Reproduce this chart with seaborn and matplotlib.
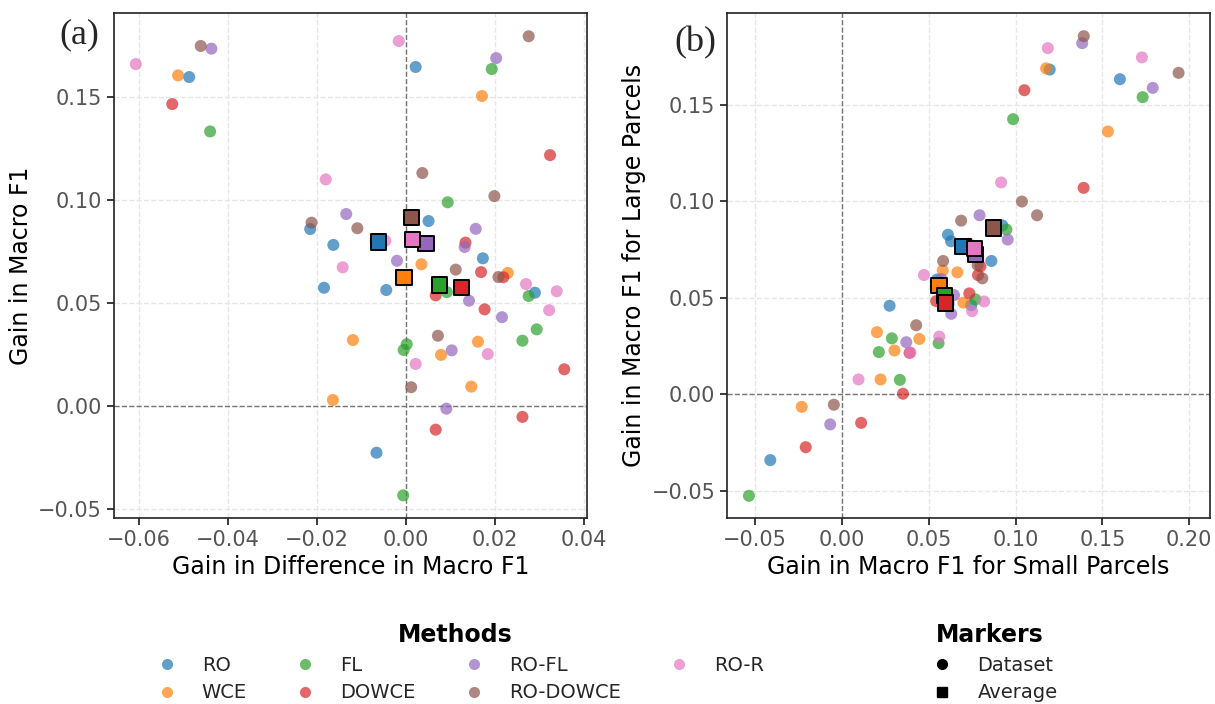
import numpy as np
import pandas as pd
import matplotlib
matplotlib.use("Agg")
import matplotlib.pyplot as plt
from matplotlib.lines import Line2D
import seaborn as sns

methods = ["RO", "WCE", "FL", "DOWCE", "RO-FL", "RO-DOWCE", "RO-R"]
colors = sns.color_palette("tab10", 7)

# (a) gain in difference in macro F1 (x) vs gain in macro F1 (y), one value per dataset
diff_gain = {
    "RO":       [-0.0487, 0.0022, -0.0215, -0.0163, -0.0184, 0.0051, 0.0173, -0.0044, 0.0290, -0.0066],
    "WCE":      [-0.0512, 0.0171, -0.0119, -0.0164, 0.0035, 0.0229, 0.0162, 0.0079, 0.0147, -0.0068],
    "FL":       [-0.0440, 0.0193, 0.0094, 0.0092, 0.0276, 0.0294, 0.0262, 0.0002, -0.0005, -0.0006],
    "DOWCE":    [-0.0525, 0.0324, 0.0134, 0.0169, 0.0219, 0.0067, 0.0177, 0.0356, 0.0262, 0.0067],
    "RO-FL":    [-0.0437, 0.0203, -0.0134, 0.0157, 0.0132, -0.0020, 0.0142, 0.0216, 0.0103, 0.0091],
    "RO-DOWCE": [-0.0461, 0.0276, -0.0212, -0.0109, 0.0037, 0.0199, 0.0112, 0.0208, 0.0072, 0.0012],
    "RO-R":     [-0.0607, -0.0016, -0.0180, -0.0142, -0.0046, 0.0270, 0.0339, 0.0322, 0.0184, 0.0022],
}
macro_gain = {
    "RO":       [0.1597, 0.1646, 0.0859, 0.0782, 0.0574, 0.0898, 0.0717, 0.0563, 0.0550, -0.0227],
    "WCE":      [0.1605, 0.1505, 0.0320, 0.0029, 0.0688, 0.0646, 0.0312, 0.0248, 0.0094, 0.0803],
    "FL":       [0.1333, 0.1636, 0.0989, 0.0553, 0.0534, 0.0372, 0.0317, 0.0300, 0.0272, -0.0434],
    "DOWCE":    [0.1466, 0.1218, 0.0793, 0.0650, 0.0625, 0.0537, 0.0469, 0.0178, -0.0053, -0.0115],
    "RO-FL":    [0.1735, 0.1689, 0.0932, 0.0860, 0.0772, 0.0705, 0.0511, 0.0431, 0.0270, -0.0013],
    "RO-DOWCE": [0.1748, 0.1795, 0.0890, 0.0863, 0.1131, 0.1019, 0.0662, 0.0626, 0.0341, 0.0091],
    "RO-R":     [0.1660, 0.1772, 0.1100, 0.0673, 0.0802, 0.0592, 0.0557, 0.0465, 0.0252, 0.0204],
}

# (b) gain for small parcels (x) vs gain for large parcels (y)
small_gain = {
    "RO":       [-0.0412, 0.0275, 0.0548, 0.0611, 0.0629, 0.0861, 0.0924, 0.0745, 0.1197, 0.1601],
    "WCE":      [-0.0231, 0.0223, 0.0202, 0.0303, 0.0446, 0.0581, 0.0665, 0.0700, 0.1176, 0.1532],
    "FL":       [-0.0535, 0.0334, 0.0288, 0.0213, 0.0557, 0.0769, 0.0948, 0.0986, 0.1732, 0.0598],
    "DOWCE":    [-0.0208, 0.0111, 0.0352, 0.0390, 0.0543, 0.0734, 0.0798, 0.0784, 0.1051, 0.1392],
    "RO-FL":    [-0.0067, 0.0371, 0.0573, 0.0646, 0.0630, 0.0793, 0.0955, 0.1384, 0.1790, 0.0615],
    "RO-DOWCE": [-0.0046, 0.0428, 0.0583, 0.0687, 0.0782, 0.0809, 0.1037, 0.1124, 0.1393, 0.1939],
    "RO-R":     [0.0096, 0.0395, 0.0561, 0.0473, 0.0732, 0.0750, 0.0819, 0.0917, 0.1186, 0.1728],
}
large_gain = {
    "RO":       [-0.0342, 0.0458, 0.0594, 0.0826, 0.0792, 0.0690, 0.0874, 0.0461, 0.1682, 0.1632],
    "WCE":      [-0.0066, 0.0076, 0.0321, 0.0226, 0.0286, 0.0641, 0.0631, 0.0474, 0.1688, 0.1361],
    "FL":       [-0.0527, 0.0074, 0.0289, 0.0218, 0.0264, 0.0491, 0.0853, 0.1425, 0.1539, 0.0504],
    "DOWCE":    [-0.0275, -0.0149, 0.0002, 0.0214, 0.0482, 0.0522, 0.0662, 0.0617, 0.1575, 0.1069],
    "RO-FL":    [-0.0157, 0.0269, 0.0596, 0.0513, 0.0416, 0.0927, 0.0801, 0.1819, 0.1587, 0.0469],
    "RO-DOWCE": [-0.0055, 0.0357, 0.0690, 0.0899, 0.0668, 0.0600, 0.0998, 0.0927, 0.1855, 0.1665],
    "RO-R":     [0.0076, 0.0216, 0.0298, 0.0617, 0.0780, 0.0430, 0.0480, 0.1097, 0.1793, 0.1745],
}


def to_frame(xd, yd):
    rows = []
    for m in methods:
        for xv, yv in zip(xd[m], yd[m]):
            rows.append({"Method": m, "x": xv, "y": yv})
    return pd.DataFrame(rows)


df_a = to_frame(diff_gain, macro_gain)
df_b = to_frame(small_gain, large_gain)

sns.set_theme(style="whitegrid", rc={
    "grid.linestyle": "--", "grid.color": "#e6e6e6", "grid.linewidth": 1.0,
    "axes.edgecolor": "#222222", "axes.linewidth": 1.2,
    "xtick.bottom": True, "ytick.left": True,
    "xtick.major.size": 5, "ytick.major.size": 5,
    "xtick.color": "#222222", "ytick.color": "#222222",
})
plt.rcParams["font.family"] = ["DejaVu Sans"]

fig = plt.figure(figsize=(12.15, 7.04), dpi=100)
ax_a = fig.add_axes([0.0938, 0.2642, 0.3893, 0.7173])
ax_b = fig.add_axes([0.5984, 0.2642, 0.3975, 0.7173])

palette = dict(zip(methods, colors))


def draw(ax, df):
    ax.axhline(0, color="#777777", ls="--", lw=1.0, zorder=1)
    ax.axvline(0, color="#777777", ls="--", lw=1.0, zorder=1)
    sns.scatterplot(data=df, x="x", y="y", hue="Method", hue_order=methods,
                    palette=palette, s=75, alpha=0.7, linewidth=0,
                    legend=False, ax=ax, zorder=3)
    avg = df.groupby("Method", sort=False)[["x", "y"]].mean().reset_index()
    sns.scatterplot(data=avg, x="x", y="y", hue="Method", hue_order=methods,
                    palette=palette, marker="s", s=120, alpha=1,
                    edgecolor="black", linewidth=1.4, legend=False,
                    ax=ax, zorder=4)
    ax.tick_params(axis="both", labelsize=15, labelcolor="#555555")
    for sp in ax.spines.values():
        sp.set_visible(True)


draw(ax_a, df_a)
draw(ax_b, df_b)

ax_a.set_xlim(-0.0656, 0.0407)
ax_a.set_ylim(-0.0544, 0.1908)
ax_b.set_xlim(-0.0661, 0.2120)
ax_b.set_ylim(-0.0642, 0.1975)
ax_a.set_xticks(np.arange(-0.06, 0.041, 0.02))
ax_b.set_xticks(np.arange(-0.05, 0.201, 0.05))
ax_a.set_yticks(np.arange(-0.05, 0.151, 0.05))
ax_b.set_yticks(np.arange(-0.05, 0.151, 0.05))

ax_a.set_xlabel("Gain in Difference in Macro F1", fontsize=17, color="black")
ax_a.set_ylabel("Gain in Macro F1", fontsize=17, color="black")
ax_b.set_xlabel("Gain in Macro F1 for Small Parcels", fontsize=17, color="black")
ax_b.set_ylabel("Gain in Macro F1 for Large Parcels", fontsize=17, color="black")

fig.text(0.065, 0.950, "(a)", fontsize=26, family="Liberation Serif",
         ha="center", va="center")
fig.text(0.572, 0.939, "(b)", fontsize=26, family="Liberation Serif",
         ha="center", va="center")

method_handles = [Line2D([], [], marker="o", ls="", color=palette[m], alpha=0.7,
                         markersize=8, markeredgewidth=0) for m in methods]
leg1 = fig.legend(method_handles, methods, title="Methods", ncol=4,
                  loc="upper center", bbox_to_anchor=(0.375, 0.140),
                  frameon=False, fontsize=14, title_fontsize=17,
                  labelspacing=0.45)
leg1.get_title().set_fontweight("bold")
leg1.get_title().set_color("black")

marker_handles = [Line2D([], [], marker="o", ls="", color="black", markersize=7),
                  Line2D([], [], marker="s", ls="", color="black", markersize=7)]
leg2 = fig.legend(marker_handles, ["Dataset", "Average"], title="Markers",
                  loc="upper center", bbox_to_anchor=(0.815, 0.140),
                  frameon=False, fontsize=14, title_fontsize=17,
                  labelspacing=0.45)
leg2.get_title().set_fontweight("bold")
leg2.get_title().set_color("black")

fig.savefig("out.png", dpi=100)
